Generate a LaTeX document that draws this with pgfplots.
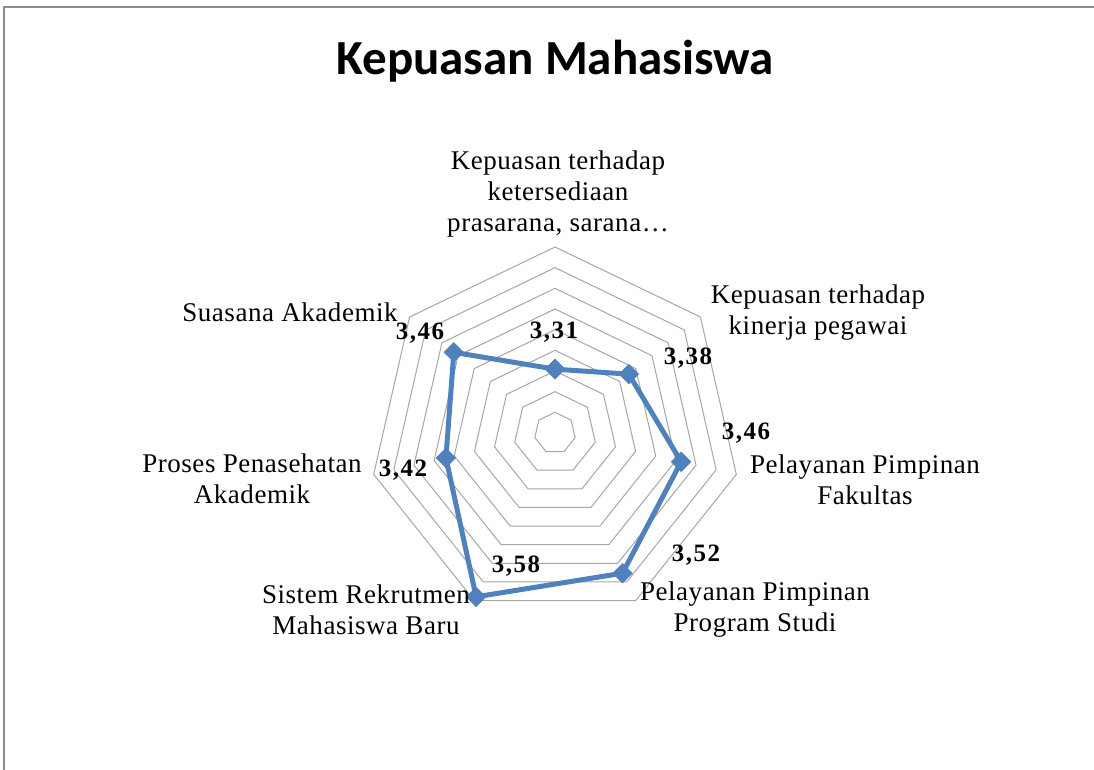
\documentclass[border=0pt]{standalone}
\usepackage{fontspec}
\usepackage{pgfplots}
\pgfplotsset{compat=1.18}
\usepgfplotslibrary{polar}
\setmainfont{Liberation Serif}
\newfontfamily\titlefont{Carlito}
\newfontfamily\catfont[LetterSpace=2]{Liberation Serif}
\newfontfamily\valfont[LetterSpace=6]{Liberation Serif}
\definecolor{serie}{HTML}{4F81BD}
\definecolor{gridc}{HTML}{A6A6A6}
\definecolor{framec}{HTML}{8C8C8C}
\newcommand\catsize{\catfont\fontsize{27bp}{31bp}\selectfont}
\newcommand\valsize{\valfont\bfseries\fontsize{25bp}{30bp}\selectfont}
\begin{document}
\begin{tikzpicture}[x=1bp,y=1bp]
\useasboundingbox (0,0) rectangle (1094,770);
\draw[framec, line width=2.5bp] (4,0) -- (4,763) -- (1094,763);
\node[font=\titlefont\bfseries\fontsize{49bp}{58bp}\selectfont] at (555,770-61) {Kepuasan Mahasiswa};
\begin{polaraxis}[
  at={(555bp,337bp)}, anchor=origin,
  scale only axis, width=372bp, height=372bp,
  ymin=0, ymax=0.42552, xmin=0, xmax=360,
  hide axis, clip=false]
\pgfplotsinvokeforeach{1,...,9}{
  \addplot[gridc, line width=1bp, no markers, domain=90:450, samples=8] ({x},{#1*0.04728});
}
\addplot[serie, line width=5bp, line join=round, mark=square*, mark size=7bp,
  mark options={rotate=45, solid, line width=0.4bp},
  y filter/.expression={y-3.164}]
  coordinates {(90,3.31) (38.571,3.38) (-12.857,3.46) (-64.286,3.52) (-115.714,3.58) (-167.143,3.42) (-218.571,3.46) (-270,3.31)};
\end{polaraxis}
% category labels
\node[font=\catsize, align=center] at (558,770-194) {Kepuasan terhadap\\ketersediaan\\prasarana, sarana\ldots};
\node[font=\catsize, align=center] at (818,770-313) {Kepuasan terhadap\\kinerja pegawai};
\node[font=\catsize, align=center] at (865,770-480) {Pelayanan Pimpinan\\Fakultas};
\node[font=\catsize, align=center] at (755,770-610) {Pelayanan Pimpinan\\Program Studi};
\node[font=\catsize, align=center] at (366,770-610) {Sistem Rekrutmen\\Mahasiswa Baru};
\node[font=\catsize, align=center] at (252,770-479) {Proses Penasehatan\\Akademik};
\node[font=\catsize, align=center] at (290,770-312) {Suasana Akademik};
% value labels
\node[font=\valsize, anchor=base] at (554,770-339) {3,31};
\node[font=\valsize, anchor=base] at (688,770-365) {3,38};
\node[font=\valsize, anchor=base] at (746,770-440) {3,46};
\node[font=\valsize, anchor=base] at (696,770-562) {3,52};
\node[font=\valsize, anchor=base] at (516,770-573) {3,58};
\node[font=\valsize, anchor=base] at (403,770-477) {3,42};
\node[font=\valsize, anchor=base] at (420,770-340) {3,46};
\end{tikzpicture}
\end{document}
